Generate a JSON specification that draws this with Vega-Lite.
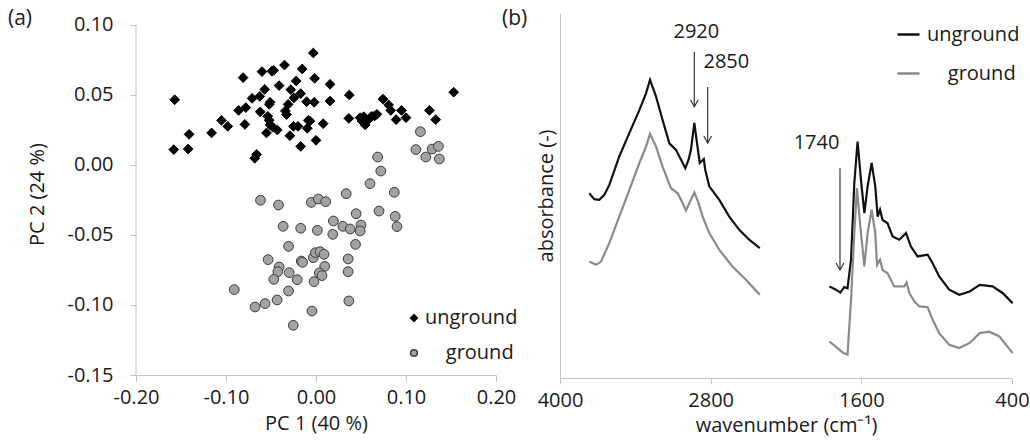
{
  "$schema": "https://vega.github.io/schema/vega-lite/v6.json",
  "padding": {"left": 8, "top": 8, "right": 5, "bottom": 12},
  "bounds": "flush",
  "spacing": 64,
  "config": {
    "font": "Open Sans",
    "view": {"stroke": null},
    "axis": {"grid": false, "domainColor": "#c4c4c4", "tickColor": "#c4c4c4", "labelFontSize": 20, "titleFontSize": 20, "labelColor": "#1a1a1a", "titleColor": "#1a1a1a", "titleFontWeight": "normal", "tickSize": 6, "labelFont": "Open Sans", "titleFont": "Open Sans", "labelFlush": false, "labelOverlap": false},
    "legend": {"labelFontSize": 20, "labelColor": "#1a1a1a", "labelFont": "Open Sans"},
    "title": {"fontSize": 21, "fontWeight": "normal", "color": "#1a1a1a", "font": "Open Sans"}
  },
  "resolve": {"scale": {"color": "independent", "shape": "independent", "stroke": "independent"}, "legend": {"color": "independent"}},
  "datasets": {
    "pca": [
      {"sample": "unground", "pc1": -0.157, "pc2": 0.0466},
      {"sample": "unground", "pc1": -0.158, "pc2": 0.011},
      {"sample": "unground", "pc1": -0.142, "pc2": 0.0114},
      {"sample": "unground", "pc1": -0.141, "pc2": 0.0219},
      {"sample": "unground", "pc1": -0.116, "pc2": 0.0229},
      {"sample": "unground", "pc1": -0.105, "pc2": 0.0319},
      {"sample": "unground", "pc1": -0.098, "pc2": 0.0276},
      {"sample": "unground", "pc1": -0.086, "pc2": 0.039},
      {"sample": "unground", "pc1": -0.078, "pc2": 0.041},
      {"sample": "unground", "pc1": -0.081, "pc2": 0.0624},
      {"sample": "unground", "pc1": -0.071, "pc2": 0.0476},
      {"sample": "unground", "pc1": -0.079, "pc2": 0.029},
      {"sample": "unground", "pc1": -0.0625, "pc2": 0.049},
      {"sample": "unground", "pc1": -0.057, "pc2": 0.054},
      {"sample": "unground", "pc1": -0.06, "pc2": 0.0667},
      {"sample": "unground", "pc1": -0.049, "pc2": 0.067},
      {"sample": "unground", "pc1": -0.047, "pc2": 0.0676},
      {"sample": "unground", "pc1": -0.035, "pc2": 0.0714},
      {"sample": "unground", "pc1": -0.041, "pc2": 0.0567},
      {"sample": "unground", "pc1": -0.052, "pc2": 0.0433},
      {"sample": "unground", "pc1": -0.051, "pc2": 0.0448},
      {"sample": "unground", "pc1": -0.062, "pc2": 0.038},
      {"sample": "unground", "pc1": -0.0536, "pc2": 0.0348},
      {"sample": "unground", "pc1": -0.052, "pc2": 0.032},
      {"sample": "unground", "pc1": -0.051, "pc2": 0.0286},
      {"sample": "unground", "pc1": -0.048, "pc2": 0.027},
      {"sample": "unground", "pc1": -0.043, "pc2": 0.025},
      {"sample": "unground", "pc1": -0.055, "pc2": 0.0229},
      {"sample": "unground", "pc1": -0.066, "pc2": 0.0076},
      {"sample": "unground", "pc1": -0.068, "pc2": 0.0048},
      {"sample": "unground", "pc1": -0.034, "pc2": 0.0386},
      {"sample": "unground", "pc1": -0.0327, "pc2": 0.036},
      {"sample": "unground", "pc1": -0.031, "pc2": 0.0433},
      {"sample": "unground", "pc1": -0.028, "pc2": 0.0538},
      {"sample": "unground", "pc1": -0.0245, "pc2": 0.048},
      {"sample": "unground", "pc1": -0.022, "pc2": 0.06},
      {"sample": "unground", "pc1": -0.017, "pc2": 0.051},
      {"sample": "unground", "pc1": -0.0153, "pc2": 0.0686},
      {"sample": "unground", "pc1": -0.029, "pc2": 0.0209},
      {"sample": "unground", "pc1": -0.025, "pc2": 0.0276},
      {"sample": "unground", "pc1": -0.02, "pc2": 0.0276},
      {"sample": "unground", "pc1": -0.017, "pc2": 0.0133},
      {"sample": "unground", "pc1": -0.0097, "pc2": 0.0262},
      {"sample": "unground", "pc1": -0.0085, "pc2": 0.0319},
      {"sample": "unground", "pc1": -0.0104, "pc2": 0.0452},
      {"sample": "unground", "pc1": -0.003, "pc2": 0.08},
      {"sample": "unground", "pc1": -0.0015, "pc2": 0.0619},
      {"sample": "unground", "pc1": -0.002, "pc2": 0.0448},
      {"sample": "unground", "pc1": 0.0, "pc2": 0.0176},
      {"sample": "unground", "pc1": -0.0067, "pc2": 0.0314},
      {"sample": "unground", "pc1": 0.008, "pc2": 0.0295},
      {"sample": "unground", "pc1": 0.0156, "pc2": 0.0576},
      {"sample": "unground", "pc1": 0.0156, "pc2": 0.0457},
      {"sample": "unground", "pc1": 0.037, "pc2": 0.05},
      {"sample": "unground", "pc1": 0.0365, "pc2": 0.0333},
      {"sample": "unground", "pc1": 0.049, "pc2": 0.0338},
      {"sample": "unground", "pc1": 0.0547, "pc2": 0.0286},
      {"sample": "unground", "pc1": 0.062, "pc2": 0.0348},
      {"sample": "unground", "pc1": 0.0677, "pc2": 0.0362},
      {"sample": "unground", "pc1": 0.051, "pc2": 0.0314},
      {"sample": "unground", "pc1": 0.058, "pc2": 0.0324},
      {"sample": "unground", "pc1": 0.053, "pc2": 0.0345},
      {"sample": "unground", "pc1": 0.065, "pc2": 0.035},
      {"sample": "unground", "pc1": 0.0744, "pc2": 0.0471},
      {"sample": "unground", "pc1": 0.0807, "pc2": 0.0429},
      {"sample": "unground", "pc1": 0.083, "pc2": 0.039},
      {"sample": "unground", "pc1": 0.089, "pc2": 0.0324},
      {"sample": "unground", "pc1": 0.095, "pc2": 0.039},
      {"sample": "unground", "pc1": 0.1, "pc2": 0.0338},
      {"sample": "unground", "pc1": 0.126, "pc2": 0.039},
      {"sample": "unground", "pc1": 0.133, "pc2": 0.0324},
      {"sample": "unground", "pc1": 0.153, "pc2": 0.052},
      {"sample": "ground", "pc1": 0.116, "pc2": 0.0238},
      {"sample": "ground", "pc1": 0.111, "pc2": 0.011},
      {"sample": "ground", "pc1": 0.122, "pc2": 0.0057},
      {"sample": "ground", "pc1": 0.129, "pc2": 0.0114},
      {"sample": "ground", "pc1": 0.136, "pc2": 0.0133},
      {"sample": "ground", "pc1": 0.137, "pc2": 0.0043},
      {"sample": "ground", "pc1": 0.0685, "pc2": 0.0057},
      {"sample": "ground", "pc1": 0.072, "pc2": -0.0043},
      {"sample": "ground", "pc1": 0.06, "pc2": -0.0133},
      {"sample": "ground", "pc1": 0.087, "pc2": -0.0195},
      {"sample": "ground", "pc1": 0.0335, "pc2": -0.0205},
      {"sample": "ground", "pc1": 0.07, "pc2": -0.0329},
      {"sample": "ground", "pc1": 0.0446, "pc2": -0.0348},
      {"sample": "ground", "pc1": 0.088, "pc2": -0.0367},
      {"sample": "ground", "pc1": -0.0617, "pc2": -0.0252},
      {"sample": "ground", "pc1": -0.0417, "pc2": -0.0286},
      {"sample": "ground", "pc1": -0.0052, "pc2": -0.0267},
      {"sample": "ground", "pc1": 0.0026, "pc2": -0.0243},
      {"sample": "ground", "pc1": 0.0108, "pc2": -0.0262},
      {"sample": "ground", "pc1": 0.0193, "pc2": -0.04},
      {"sample": "ground", "pc1": 0.09, "pc2": -0.044},
      {"sample": "ground", "pc1": -0.0365, "pc2": -0.0438},
      {"sample": "ground", "pc1": -0.017, "pc2": -0.0452},
      {"sample": "ground", "pc1": 0.0015, "pc2": -0.0467},
      {"sample": "ground", "pc1": 0.0186, "pc2": -0.0495},
      {"sample": "ground", "pc1": 0.0298, "pc2": -0.0438},
      {"sample": "ground", "pc1": 0.038, "pc2": -0.0457},
      {"sample": "ground", "pc1": 0.05, "pc2": -0.0429},
      {"sample": "ground", "pc1": 0.049, "pc2": -0.0471},
      {"sample": "ground", "pc1": 0.0439, "pc2": -0.0567},
      {"sample": "ground", "pc1": -0.0305, "pc2": -0.0581},
      {"sample": "ground", "pc1": -0.0532, "pc2": -0.0676},
      {"sample": "ground", "pc1": -0.041, "pc2": -0.0729},
      {"sample": "ground", "pc1": -0.0424, "pc2": -0.0762},
      {"sample": "ground", "pc1": -0.0469, "pc2": -0.0817},
      {"sample": "ground", "pc1": -0.0298, "pc2": -0.0769},
      {"sample": "ground", "pc1": -0.0209, "pc2": -0.0819},
      {"sample": "ground", "pc1": -0.0164, "pc2": -0.0686},
      {"sample": "ground", "pc1": -0.0149, "pc2": -0.0695},
      {"sample": "ground", "pc1": -0.003, "pc2": -0.0662},
      {"sample": "ground", "pc1": -0.0007, "pc2": -0.0626},
      {"sample": "ground", "pc1": 0.0045, "pc2": -0.0619},
      {"sample": "ground", "pc1": 0.0089, "pc2": -0.0638},
      {"sample": "ground", "pc1": 0.0097, "pc2": -0.0724},
      {"sample": "ground", "pc1": 0.0037, "pc2": -0.0771},
      {"sample": "ground", "pc1": 0.0067, "pc2": -0.079},
      {"sample": "ground", "pc1": -0.0022, "pc2": -0.0833},
      {"sample": "ground", "pc1": 0.0357, "pc2": -0.0671},
      {"sample": "ground", "pc1": 0.0357, "pc2": -0.0762},
      {"sample": "ground", "pc1": 0.0365, "pc2": -0.0971},
      {"sample": "ground", "pc1": -0.0305, "pc2": -0.09},
      {"sample": "ground", "pc1": -0.0432, "pc2": -0.0964},
      {"sample": "ground", "pc1": -0.0566, "pc2": -0.099},
      {"sample": "ground", "pc1": -0.0677, "pc2": -0.1014},
      {"sample": "ground", "pc1": -0.0908, "pc2": -0.089},
      {"sample": "ground", "pc1": -0.0045, "pc2": -0.1043},
      {"sample": "ground", "pc1": -0.0253, "pc2": -0.1145}
    ],
    "spectra": [
      {"series": "unground", "seg": 1, "wn": 3767, "a": 0.506},
      {"series": "unground", "seg": 1, "wn": 3727, "a": 0.49},
      {"series": "unground", "seg": 1, "wn": 3687, "a": 0.488},
      {"series": "unground", "seg": 1, "wn": 3647, "a": 0.502},
      {"series": "unground", "seg": 1, "wn": 3607, "a": 0.529},
      {"series": "unground", "seg": 1, "wn": 3528, "a": 0.607},
      {"series": "unground", "seg": 1, "wn": 3448, "a": 0.671},
      {"series": "unground", "seg": 1, "wn": 3368, "a": 0.734},
      {"series": "unground", "seg": 1, "wn": 3315, "a": 0.78},
      {"series": "unground", "seg": 1, "wn": 3283, "a": 0.817},
      {"series": "unground", "seg": 1, "wn": 3235, "a": 0.771},
      {"series": "unground", "seg": 1, "wn": 3183, "a": 0.707},
      {"series": "unground", "seg": 1, "wn": 3129, "a": 0.643},
      {"series": "unground", "seg": 1, "wn": 3076, "a": 0.625},
      {"series": "unground", "seg": 1, "wn": 3036, "a": 0.598},
      {"series": "unground", "seg": 1, "wn": 3002, "a": 0.575},
      {"series": "unground", "seg": 1, "wn": 2976, "a": 0.598},
      {"series": "unground", "seg": 1, "wn": 2957, "a": 0.625},
      {"series": "unground", "seg": 1, "wn": 2930, "a": 0.699},
      {"series": "unground", "seg": 1, "wn": 2912, "a": 0.652},
      {"series": "unground", "seg": 1, "wn": 2887, "a": 0.589},
      {"series": "unground", "seg": 1, "wn": 2855, "a": 0.6},
      {"series": "unground", "seg": 1, "wn": 2843, "a": 0.57},
      {"series": "unground", "seg": 1, "wn": 2811, "a": 0.525},
      {"series": "unground", "seg": 1, "wn": 2731, "a": 0.488},
      {"series": "unground", "seg": 1, "wn": 2652, "a": 0.442},
      {"series": "unground", "seg": 1, "wn": 2572, "a": 0.406},
      {"series": "unground", "seg": 1, "wn": 2493, "a": 0.379},
      {"series": "unground", "seg": 1, "wn": 2409, "a": 0.356},
      {"series": "ground", "seg": 1, "wn": 3767, "a": 0.319},
      {"series": "ground", "seg": 1, "wn": 3713, "a": 0.31},
      {"series": "ground", "seg": 1, "wn": 3673, "a": 0.319},
      {"series": "ground", "seg": 1, "wn": 3607, "a": 0.37},
      {"series": "ground", "seg": 1, "wn": 3528, "a": 0.442},
      {"series": "ground", "seg": 1, "wn": 3448, "a": 0.515},
      {"series": "ground", "seg": 1, "wn": 3368, "a": 0.589},
      {"series": "ground", "seg": 1, "wn": 3315, "a": 0.634},
      {"series": "ground", "seg": 1, "wn": 3283, "a": 0.669},
      {"series": "ground", "seg": 1, "wn": 3235, "a": 0.634},
      {"series": "ground", "seg": 1, "wn": 3183, "a": 0.579},
      {"series": "ground", "seg": 1, "wn": 3116, "a": 0.52},
      {"series": "ground", "seg": 1, "wn": 3063, "a": 0.506},
      {"series": "ground", "seg": 1, "wn": 3028, "a": 0.483},
      {"series": "ground", "seg": 1, "wn": 2997, "a": 0.459},
      {"series": "ground", "seg": 1, "wn": 2965, "a": 0.483},
      {"series": "ground", "seg": 1, "wn": 2930, "a": 0.508},
      {"series": "ground", "seg": 1, "wn": 2896, "a": 0.479},
      {"series": "ground", "seg": 1, "wn": 2864, "a": 0.442},
      {"series": "ground", "seg": 1, "wn": 2811, "a": 0.397},
      {"series": "ground", "seg": 1, "wn": 2731, "a": 0.351},
      {"series": "ground", "seg": 1, "wn": 2625, "a": 0.305},
      {"series": "ground", "seg": 1, "wn": 2519, "a": 0.269},
      {"series": "ground", "seg": 1, "wn": 2409, "a": 0.228},
      {"series": "unground", "seg": 2, "wn": 1855, "a": 0.251},
      {"series": "unground", "seg": 2, "wn": 1802, "a": 0.242},
      {"series": "unground", "seg": 2, "wn": 1768, "a": 0.234},
      {"series": "unground", "seg": 2, "wn": 1736, "a": 0.249},
      {"series": "unground", "seg": 2, "wn": 1710, "a": 0.246},
      {"series": "unground", "seg": 2, "wn": 1682, "a": 0.324},
      {"series": "unground", "seg": 2, "wn": 1656, "a": 0.534},
      {"series": "unground", "seg": 2, "wn": 1630, "a": 0.648},
      {"series": "unground", "seg": 2, "wn": 1603, "a": 0.543},
      {"series": "unground", "seg": 2, "wn": 1576, "a": 0.452},
      {"series": "unground", "seg": 2, "wn": 1550, "a": 0.525},
      {"series": "unground", "seg": 2, "wn": 1518, "a": 0.589},
      {"series": "unground", "seg": 2, "wn": 1489, "a": 0.525},
      {"series": "unground", "seg": 2, "wn": 1470, "a": 0.442},
      {"series": "unground", "seg": 2, "wn": 1451, "a": 0.461},
      {"series": "unground", "seg": 2, "wn": 1431, "a": 0.433},
      {"series": "unground", "seg": 2, "wn": 1391, "a": 0.424},
      {"series": "unground", "seg": 2, "wn": 1351, "a": 0.388},
      {"series": "unground", "seg": 2, "wn": 1298, "a": 0.379},
      {"series": "unground", "seg": 2, "wn": 1244, "a": 0.397},
      {"series": "unground", "seg": 2, "wn": 1205, "a": 0.36},
      {"series": "unground", "seg": 2, "wn": 1152, "a": 0.333},
      {"series": "unground", "seg": 2, "wn": 1072, "a": 0.338},
      {"series": "unground", "seg": 2, "wn": 1033, "a": 0.315},
      {"series": "unground", "seg": 2, "wn": 980, "a": 0.278},
      {"series": "unground", "seg": 2, "wn": 900, "a": 0.242},
      {"series": "unground", "seg": 2, "wn": 820, "a": 0.228},
      {"series": "unground", "seg": 2, "wn": 737, "a": 0.237},
      {"series": "unground", "seg": 2, "wn": 657, "a": 0.255},
      {"series": "unground", "seg": 2, "wn": 555, "a": 0.251},
      {"series": "unground", "seg": 2, "wn": 475, "a": 0.233},
      {"series": "unground", "seg": 2, "wn": 395, "a": 0.205},
      {"series": "ground", "seg": 2, "wn": 1855, "a": 0.1},
      {"series": "ground", "seg": 2, "wn": 1789, "a": 0.082},
      {"series": "ground", "seg": 2, "wn": 1749, "a": 0.07},
      {"series": "ground", "seg": 2, "wn": 1710, "a": 0.064},
      {"series": "ground", "seg": 2, "wn": 1682, "a": 0.214},
      {"series": "ground", "seg": 2, "wn": 1656, "a": 0.397},
      {"series": "ground", "seg": 2, "wn": 1635, "a": 0.52},
      {"series": "ground", "seg": 2, "wn": 1608, "a": 0.415},
      {"series": "ground", "seg": 2, "wn": 1576, "a": 0.306},
      {"series": "ground", "seg": 2, "wn": 1550, "a": 0.397},
      {"series": "ground", "seg": 2, "wn": 1518, "a": 0.461},
      {"series": "ground", "seg": 2, "wn": 1489, "a": 0.397},
      {"series": "ground", "seg": 2, "wn": 1475, "a": 0.31},
      {"series": "ground", "seg": 2, "wn": 1451, "a": 0.324},
      {"series": "ground", "seg": 2, "wn": 1431, "a": 0.296},
      {"series": "ground", "seg": 2, "wn": 1391, "a": 0.287},
      {"series": "ground", "seg": 2, "wn": 1338, "a": 0.251},
      {"series": "ground", "seg": 2, "wn": 1258, "a": 0.251},
      {"series": "ground", "seg": 2, "wn": 1240, "a": 0.262},
      {"series": "ground", "seg": 2, "wn": 1218, "a": 0.233},
      {"series": "ground", "seg": 2, "wn": 1178, "a": 0.21},
      {"series": "ground", "seg": 2, "wn": 1138, "a": 0.196},
      {"series": "ground", "seg": 2, "wn": 1072, "a": 0.194},
      {"series": "ground", "seg": 2, "wn": 1033, "a": 0.16},
      {"series": "ground", "seg": 2, "wn": 980, "a": 0.123},
      {"series": "ground", "seg": 2, "wn": 900, "a": 0.091},
      {"series": "ground", "seg": 2, "wn": 820, "a": 0.082},
      {"series": "ground", "seg": 2, "wn": 737, "a": 0.096},
      {"series": "ground", "seg": 2, "wn": 657, "a": 0.123},
      {"series": "ground", "seg": 2, "wn": 581, "a": 0.127},
      {"series": "ground", "seg": 2, "wn": 501, "a": 0.114},
      {"series": "ground", "seg": 2, "wn": 395, "a": 0.068}
    ],
    "arrows": [
      {"band": "2920", "wn": 2930, "top": 0.893, "tip": 0.743},
      {"band": "2850", "wn": 2824, "top": 0.797, "tip": 0.644},
      {"band": "1740", "wn": 1770, "top": 0.575, "tip": 0.296}
    ],
    "bandlabels": [
      {"label": "2920", "wn": 2914, "a": 0.948},
      {"label": "2850", "wn": 2675, "a": 0.866},
      {"label": "1740", "wn": 1957, "a": 0.644}
    ]
  },
  "hconcat": [
    {
      "width": 360,
      "height": 362,
      "title": {"text": "(a)", "anchor": "start", "frame": "group", "dx": -128, "dy": 20},
      "layer": [
        {
          "data": {"values": [{}]},
          "mark": {"type": "rule", "color": "#c4c4c4", "strokeWidth": 1},
          "encoding": {
            "x": {"datum": -0.2, "type": "quantitative"},
            "y": {"datum": -0.15, "type": "quantitative"},
            "y2": {"datum": 0.1}
          }
        },
        {
          "data": {"name": "pca"},
          "mark": {"type": "point", "filled": true, "size": 95, "opacity": 1, "strokeWidth": 1},
          "encoding": {
            "x": {"field": "pc1", "type": "quantitative", "title": "PC 1 (40 %)",
              "scale": {"domain": [-0.2, 0.2], "nice": false, "zero": false},
              "axis": {"values": [-0.2, -0.1, 0, 0.1, 0.2], "labelExpr": "replace(format(datum.value, '.2f'), '\u2212', '-')", "labelPadding": 6, "titlePadding": 6}},
            "y": {"field": "pc2", "type": "quantitative", "title": "PC 2 (24 %)",
              "scale": {"domain": [-0.15, 0.10857], "nice": false, "zero": false},
              "axis": {"values": [-0.15, -0.1, -0.05, 0, 0.05, 0.1], "labelExpr": "replace(format(datum.value, '.2f'), '\u2212', '-')", "domain": false, "labelPadding": 17, "titlePadding": 20}},
            "color": {"field": "sample", "type": "nominal",
              "scale": {"domain": ["unground", "ground"], "range": ["#000000", "#a3a3a3"]},
              "legend": {"orient": "none", "legendX": 268, "legendY": 295, "title": null, "padding": 0, "symbolSize": 45, "rowPadding": 15, "labelOffset": 1, "labelExpr": "datum.label == 'ground' ? '\u200b\u00a0\u00a0\u00a0\u00a0ground' : datum.label"}},
            "shape": {"field": "sample", "type": "nominal", "scale": {"domain": ["unground", "ground"], "range": ["diamond", "circle"]}},
            "stroke": {"field": "sample", "type": "nominal", "scale": {"domain": ["unground", "ground"], "range": ["#000000", "#3a3a3a"]}}
          }
        }
      ]
    },
    {
      "width": 452,
      "height": 365,
      "title": {"text": "(b)", "anchor": "start", "frame": "group", "dx": -58, "dy": 20},
      "layer": [
        {
          "data": {"name": "spectra"},
          "mark": {"type": "line", "strokeWidth": 2.2},
          "encoding": {
            "x": {"field": "wn", "type": "quantitative", "title": "wavenumber (cm⁻¹)",
              "scale": {"domain": [400, 4000], "reverse": true, "nice": false, "zero": false},
              "axis": {"values": [4000, 2800, 1600, 400], "format": "d", "labelPadding": 6, "titlePadding": 5}},
            "y": {"field": "a", "type": "quantitative", "title": "absorbance (-)",
              "scale": {"domain": [0, 1], "nice": false, "zero": false},
              "axis": {"labels": false, "ticks": false, "titlePadding": 4}},
            "color": {"field": "series", "type": "nominal",
              "scale": {"domain": ["unground", "ground"], "range": ["#111111", "#8a8a8a"]},
              "legend": {"orient": "none", "legendX": 336, "legendY": 9, "title": null, "padding": 0, "symbolType": "stroke", "symbolSize": 484, "symbolStrokeWidth": 2.5, "rowPadding": 16, "labelOffset": 6, "labelExpr": "datum.label == 'ground' ? '\u200b\u00a0\u00a0\u00a0\u00a0ground' : datum.label"}},
            "detail": {"field": "seg", "type": "nominal"}
          }
        },
        {
          "data": {"name": "arrows"},
          "mark": {"type": "rule", "color": "#333333", "strokeWidth": 1.2},
          "encoding": {
            "x": {"field": "wn", "type": "quantitative", "title": "wavenumber (cm⁻¹)"},
            "y": {"field": "top", "type": "quantitative", "title": "absorbance (-)"},
            "y2": {"field": "tip"}
          }
        },
        {
          "data": {"name": "arrows"},
          "mark": {"type": "point", "shape": "M-0.55,-1L0,0L0.55,-1", "size": 196, "filled": false, "stroke": "#333333", "strokeWidth": 1.2, "opacity": 1},
          "encoding": {
            "x": {"field": "wn", "type": "quantitative", "title": "wavenumber (cm⁻¹)"},
            "y": {"field": "tip", "type": "quantitative", "title": "absorbance (-)"}
          }
        },
        {
          "data": {"name": "bandlabels"},
          "mark": {"type": "text", "fontSize": 20, "color": "#1a1a1a", "font": "Open Sans", "baseline": "middle", "align": "center"},
          "encoding": {
            "x": {"field": "wn", "type": "quantitative", "title": "wavenumber (cm⁻¹)"},
            "y": {"field": "a", "type": "quantitative", "title": "absorbance (-)"},
            "text": {"field": "label"}
          }
        }
      ]
    }
  ]
}
